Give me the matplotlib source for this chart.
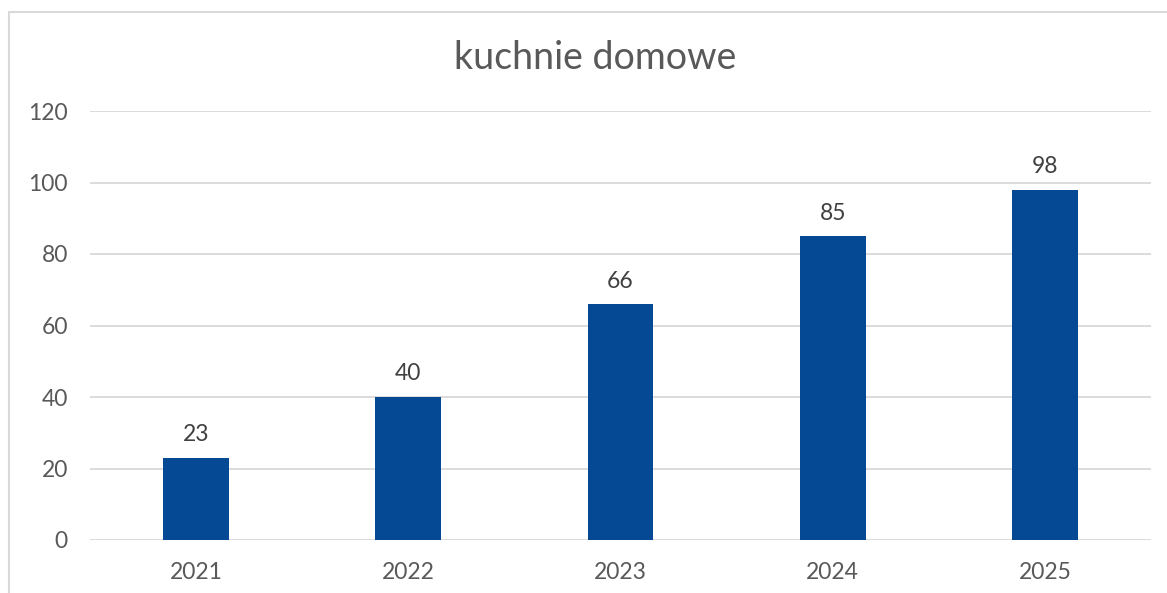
import matplotlib
matplotlib.use("Agg")
import matplotlib.pyplot as plt
from matplotlib.patches import Rectangle

categories = ["2021", "2022", "2023", "2024", "2025"]
values = [23, 40, 66, 85, 98]
yticks = [0, 20, 40, 60, 80, 100, 120]
title = "kuchnie domowe"

plt.rcParams['font.family'] = ['Lato', 'DejaVu Sans']
W, H = 1167, 593
fig = plt.figure(figsize=(W/100, H/100), dpi=100)

# outer frame (cropped on right and bottom)
fig.patches.append(Rectangle((8.5/W, -0.1), 1.2, 1 - 12.5/H + 0.1, transform=fig.transFigure,
                             fill=False, edgecolor='#d9d9d9', linewidth=1.5))

ax = fig.add_axes([90/W, 1 - 540/H, (1151-90)/W, (540-111)/H])
x = range(len(categories))
bars = ax.bar(x, values, width=0.31, color='#054994', zorder=3)
ax.set_xlim(-0.5, len(categories) - 0.5)
ax.set_ylim(0, 120)
ax.set_yticks(yticks)
ax.set_xticks(list(x))
ax.set_xticklabels(categories)
ax.grid(axis='y', color='#d9d9d9', linewidth=1.3, zorder=0)
for s in ax.spines.values():
    s.set_visible(False)
ax.tick_params(axis='both', length=0, labelsize=16.5, labelcolor='#595959')
ax.tick_params(axis='y', pad=16)
ax.tick_params(axis='x', pad=16)
for i, v in enumerate(values):
    ax.annotate(str(v), (i, v), xytext=(0, 9), textcoords='offset points',
                ha='center', va='bottom', fontsize=16.5, color='#404040')
fig.text(595/W, 1 - 58/H, title, ha='center', va='center', fontsize=27, color='#595959')
fig.savefig('out.png', dpi=100, facecolor='white')
